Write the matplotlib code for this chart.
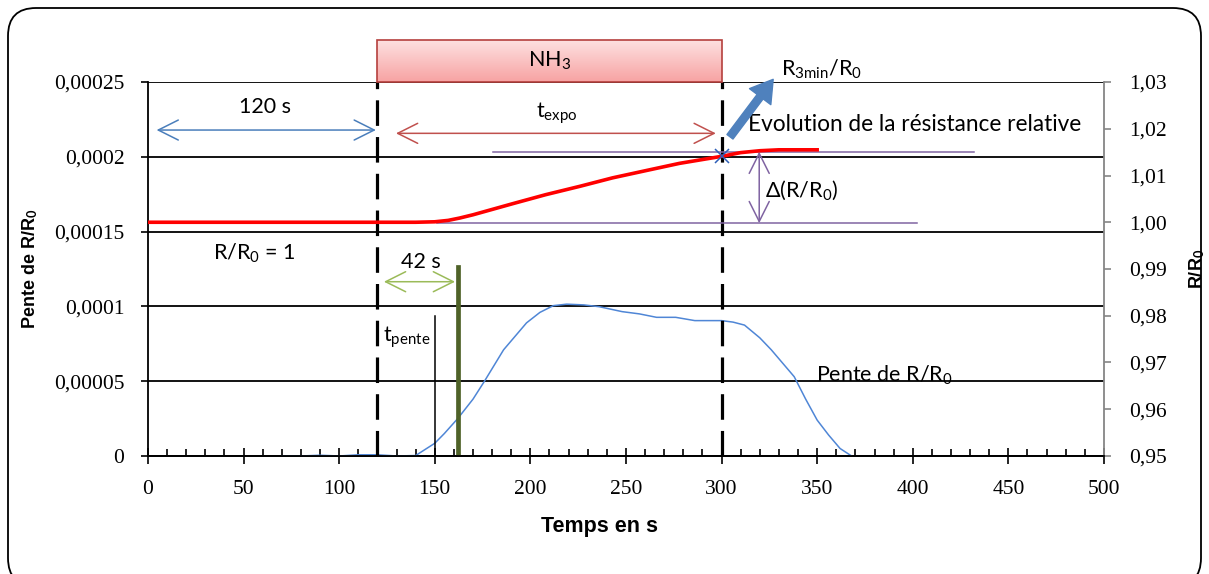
import numpy as np
import matplotlib
matplotlib.use('Agg')
import matplotlib.pyplot as plt
from matplotlib.patches import FancyBboxPatch, Rectangle
from matplotlib.transforms import IdentityTransform

plt.rcParams['mathtext.fontset'] = 'custom'
plt.rcParams['mathtext.rm'] = 'Lato'
plt.rcParams['mathtext.it'] = 'Lato:italic'
plt.rcParams['mathtext.bf'] = 'Lato:bold'

# slope of R/R0 (left axis)
t_pente = [70, 80, 90, 100, 110, 120, 130, 140, 150, 155, 162, 170, 176, 186, 198,
           205, 212, 219, 228, 236, 248, 257, 266, 276, 286, 300, 306, 312, 320,
           326, 332, 338, 344, 350, 356, 362, 368]
pente = [0, 0, 0.5e-6, 0, 0.8e-6, 0.8e-6, 0, 0.3e-6, 8.5e-6, 1.5e-5, 2.5e-5, 3.8e-5,
         5.0e-5, 7.1e-5, 8.9e-5, 9.6e-5, 1.005e-4, 1.015e-4, 1.01e-4, 9.98e-5, 9.65e-5,
         9.5e-5, 9.27e-5, 9.27e-5, 9.05e-5, 9.05e-5, 8.95e-5, 8.75e-5, 7.9e-5, 7.1e-5,
         6.2e-5, 5.3e-5, 3.8e-5, 2.4e-5, 1.4e-5, 5e-6, 0]

# relative resistance R/R0 (right axis)
t_r = [0, 50, 100, 140, 150, 157, 163, 170, 177, 184, 191, 208, 226, 243, 261, 278,
       300, 310, 320, 330, 340, 350]
r_rel = [1.0, 1.0, 1.0, 1.0, 1.0001, 1.0004, 1.0009, 1.0016, 1.0024, 1.0032, 1.0040,
         1.0059, 1.0077, 1.0095, 1.0111, 1.0126, 1.0141, 1.0149, 1.0153, 1.0155,
         1.0155, 1.0155]

x_ticks = [0, 50, 100, 150, 200, 250, 300, 350, 400, 450, 500]
left_ticks = [0, 0.00005, 0.0001, 0.00015, 0.0002, 0.00025]
left_labels = ['0', '0,00005', '0,0001', '0,00015', '0,0002', '0,00025']
right_ticks = [0.95, 0.96, 0.97, 0.98, 0.99, 1.00, 1.01, 1.02, 1.03]
right_labels = ['0,95', '0,96', '0,97', '0,98', '0,99', '1,00', '1,01', '1,02', '1,03']

t_start, t_stop = 120, 300      # NH3 exposure
t_pente_mark, t_42 = 150, 162.3
r_low, r_high = 0.9998, 1.0151

serif = 'Liberation Serif'
body = ['Lato', 'DejaVu Sans']
fs = 15.5

fig = plt.figure(figsize=(12.09, 5.74), dpi=100)
ax = fig.add_axes([0.1224, 0.2056, 0.7907, 0.6515])
ax2 = ax.twinx()

ax.set_xlim(0, 500)
ax.set_ylim(0, 0.00025)
ax2.set_ylim(0.95, 1.03)

ax.set_xticks(x_ticks)
ax.set_xticklabels([str(v) for v in x_ticks], fontfamily=serif, fontsize=15.5)
ax.set_xticks(np.arange(0, 501, 10), minor=True)
ax.tick_params(axis='x', which='major', direction='inout', length=12, width=1.2, pad=11)
ax.tick_params(axis='x', which='minor', direction='in', length=5, width=1.2)
ax.set_yticks(left_ticks)
ax.set_yticklabels(left_labels, fontfamily=serif, fontsize=15.5)
ax.tick_params(axis='y', direction='out', length=5, width=1.2, pad=12)
ax2.set_yticks(right_ticks)
ax2.set_yticklabels(right_labels, fontfamily=serif, fontsize=15.5)
ax2.tick_params(axis='y', direction='out', length=5, width=1.2, color='#868686', pad=13)

ax.yaxis.grid(True, color='black', lw=1.3)
ax.set_axisbelow(True)
for a in (ax, ax2):
    a.spines['top'].set_visible(False)
    a.spines['left'].set_linewidth(1.3)
    a.spines['bottom'].set_linewidth(1.3)
ax.spines['right'].set_visible(False)
ax2.spines['left'].set_visible(False)
ax2.spines['right'].set_color('#868686')
ax2.spines['right'].set_linewidth(1.3)

ax.set_xlabel('Temps en s', fontfamily='Liberation Sans', fontweight='bold', fontsize=15.5)
ax.xaxis.set_label_coords(0.4728, -0.16)
ax.set_ylabel(r'Pente de R/R$_\mathbf{0}$', fontfamily='Liberation Sans', fontweight='bold', fontsize=13)
ax.yaxis.set_label_coords(-0.113, 0.5)
ax2.set_ylabel(r'R/R$_\mathbf{0}$', fontfamily='Liberation Sans', fontweight='bold', fontsize=13)
ax2.yaxis.set_label_coords(1.087, 0.5)

# curves
ax.plot(t_pente, pente, color='#4f86d6', lw=1.1, zorder=3)
ax2.plot(t_r, r_rel, color='#ff0000', lw=2.6, zorder=4)
ax2.plot([t_stop], [r_rel[t_r.index(t_stop)]], marker='x', color='#2e5fb8', ms=10, mew=1.1, zorder=5)

# exposure limits
for tv in (t_start, t_stop):
    ax.axvline(tv, color='black', lw=2.3, dashes=(8, 3.5), zorder=4)

# NH3 box with gradient
y0, y1 = 0.00025, 0.00025 + 42 / 1.496e6
grad = np.linspace(0, 1, 64).reshape(-1, 1)
cmap = matplotlib.colors.LinearSegmentedColormap.from_list('pk', ['#f7a3a3', '#fde0e0'])
ax.imshow(grad, extent=(t_start, t_stop, y0, y1), origin='lower', aspect='auto', cmap=cmap,
          clip_on=False, zorder=6)
ax.add_patch(Rectangle((t_start, y0), t_stop - t_start, y1 - y0, fill=False, ec='#b5403d',
                       lw=1.2, clip_on=False, zorder=7))
ax.text((t_start + t_stop) / 2, (y0 + y1) / 2, r'NH$_3$', ha='center', va='center',
        fontfamily=body, fontsize=fs, zorder=8)
ax.set_xlim(0, 500)
ax.set_ylim(0, 0.00025)

# double arrows
def darrow(a, p0, p1, col, lw=1.1):
    a.annotate('', xy=p1, xytext=p0, annotation_clip=False,
               arrowprops=dict(arrowstyle='<->,head_length=0.9,head_width=0.45', color=col,
                               lw=lw, shrinkA=0, shrinkB=0, mutation_scale=16))

darrow(ax, (4.5, 2.179e-4), (119.2, 2.179e-4), '#4a7ebb')
darrow(ax, (129.7, 2.157e-4), (297, 2.157e-4), '#c0504d')
darrow(ax, (123.4, 1.165e-4), (160.6, 1.165e-4), '#9bbb59')
darrow(ax2, (319.7, r_high), (319.7, r_low), '#8064a2')

ax.text(61.2, 2.333e-4, '120 s', ha='center', va='center', fontfamily=body, fontsize=fs)
ax.text(213.7, 2.293e-4, r'$\mathrm{t}_{\mathrm{expo}}$', ha='center', va='center', fontfamily=body, fontsize=fs)
ax.text(142.8, 1.299e-4, '42 s', ha='center', va='center', fontfamily=body, fontsize=fs)
ax.text(123, 7.95e-5, r'$\mathrm{t}_{\mathrm{pente}}$', ha='left', va='center', fontfamily=body, fontsize=fs)
ax.text(34, 1.357e-4, r'R/R$_0$ = 1', ha='left', va='center', fontfamily=body, fontsize=fs)
ax.text(349.5, 5.41e-5, r'Pente de R/R$_0$', ha='left', va='center', fontfamily=body, fontsize=fs)
ax.text(314, 2.213e-4, 'Evolution de la résistance relative', ha='left', va='center',
        fontfamily=body, fontsize=16.3, zorder=8)
ax.text(322.7, 1.778e-4, r'Δ(R/R$_0$)', ha='left', va='center', fontfamily=body, fontsize=fs)
ax.text(331, 2.587e-4, r'R$_{\mathrm{3min}}$/R$_0$', ha='left', va='center', fontfamily=body,
        fontsize=fs, clip_on=False)

# markers for t_pente and 42 s
ax.plot([t_pente_mark, t_pente_mark], [0, 9.36e-5], color='black', lw=1.1, zorder=4)
ax.plot([t_42, t_42], [0, 1.265e-4], color='#4f6228', lw=3.4, zorder=5)

# purple level lines
ax2.plot([180.6, 432], [r_high, r_high], color='#8064a2', lw=1.1, zorder=3)
ax2.plot([151, 402], [r_low, r_low], color='#8064a2', lw=1.1, zorder=3)

# big blue arrow
ax.annotate('', xy=(327, 2.518e-4), xytext=(304.4, 2.134e-4), annotation_clip=False,
            arrowprops=dict(arrowstyle='simple,head_length=1.3,head_width=1.6,tail_width=0.45',
                            color='#4f81bd', mutation_scale=12, shrinkA=0, shrinkB=0), zorder=9)

# rounded frame
fig.patches.append(FancyBboxPatch((8, -12), 1193, 578, boxstyle='round,pad=0,rounding_size=28',
                                  transform=IdentityTransform(), fill=False, ec='black', lw=1.3))

fig.savefig('out.png', dpi=100)
